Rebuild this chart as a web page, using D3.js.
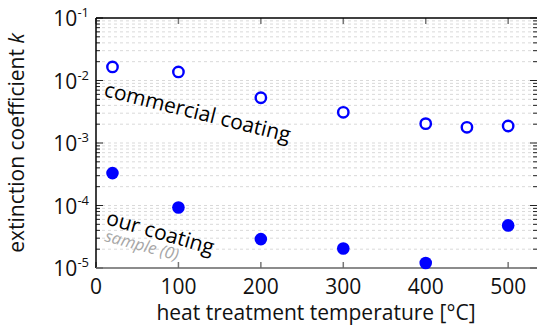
<!DOCTYPE html>
<html>
<head>
<meta charset="utf-8">
<script src="https://cdn.jsdelivr.net/npm/d3@7"></script>
<style>
  body { margin: 0; background: #fff; }
  text { font-family: "Open Sans", "Noto Sans", sans-serif; }
</style>
</head>
<body>
<svg id="chart" width="538" height="326"></svg>
<script>
// heat treatment temperatures [°C]
var commercialT = [20, 100, 200, 300, 400, 450, 500];
var commercialK = [0.0165, 0.0137, 0.0053, 0.0031, 0.00204, 0.00178, 0.00187];
var oursT = [20, 100, 200, 300, 400, 500];
var oursK = [3.3e-4, 9.3e-5, 2.9e-5, 2.05e-5, 1.2e-5, 4.8e-5];
var xTicks = [0, 100, 200, 300, 400, 500];
var yDecades = [-5, -4, -3, -2, -1];

var pLeft = 96, pTop = 18, pRight = 537, pBottom = 268;

var svg = d3.select("#chart");

var x = d3.scaleLinear().domain([0, 535]).range([pLeft, pRight]);
var y = d3.scaleLog().domain([1e-5, 1e-1]).range([pBottom, pTop]);

// minor/major log values
var logVals = [];
for (var e = -5; e <= -1; e++) {
    for (var m = 1; m < 10; m++) {
        var v = m * Math.pow(10, e);
        if (v <= 0.1 + 1e-12) logVals.push(v);
    }
}

// horizontal dashed grid
svg.append("g").selectAll("line")
    .data(logVals.filter(function(v) { return v > 1.0001e-5 && v < 0.0999; }))
    .enter().append("line")
    .attr("x1", pLeft).attr("x2", pRight)
    .attr("y1", function(d) { return y(d); })
    .attr("y2", function(d) { return y(d); })
    .attr("stroke", "#d9d9d9")
    .attr("stroke-width", 1)
    .attr("stroke-dasharray", "3,3");

// y ticks on left and right, pointing inwards
var yt = svg.append("g");
logVals.forEach(function(v) {
    var major = Math.abs(Math.log10(v) - Math.round(Math.log10(v))) < 1e-9;
    var len = major ? 7 : 4;
    yt.append("line").attr("x1", pLeft).attr("x2", pLeft + len)
        .attr("y1", y(v)).attr("y2", y(v)).attr("stroke", "#222");
    yt.append("line").attr("x1", pRight).attr("x2", pRight - len)
        .attr("y1", y(v)).attr("y2", y(v)).attr("stroke", "#222");
});

// x ticks bottom and top
var xt = svg.append("g");
xTicks.forEach(function(t) {
    xt.append("line").attr("x1", x(t)).attr("x2", x(t))
        .attr("y1", pBottom).attr("y2", pBottom - 6).attr("stroke", "#777").attr("stroke-width", 1.5);
    xt.append("line").attr("x1", x(t)).attr("x2", x(t))
        .attr("y1", pTop).attr("y2", pTop + 6).attr("stroke", "#777").attr("stroke-width", 1.5);
});

// axis box
svg.append("line").attr("x1", pLeft).attr("x2", pRight).attr("y1", pTop).attr("y2", pTop)
    .attr("stroke", "#000").attr("stroke-width", 1.5);
svg.append("line").attr("x1", pLeft).attr("x2", pLeft).attr("y1", pTop).attr("y2", pBottom)
    .attr("stroke", "#000").attr("stroke-width", 1.5);
svg.append("line").attr("x1", pLeft).attr("x2", pRight).attr("y1", pBottom).attr("y2", pBottom)
    .attr("stroke", "#666").attr("stroke-width", 1.5);

// x tick labels
svg.append("g").selectAll("text")
    .data(xTicks).enter().append("text")
    .attr("x", function(d) { return x(d); })
    .attr("y", 294)
    .attr("text-anchor", "middle")
    .attr("font-size", 21)
    .attr("fill", "#111")
    .text(function(d) { return d; });

// y tick labels 10^n
var yl = svg.append("g").selectAll("text")
    .data(yDecades).enter().append("text")
    .attr("x", 89)
    .attr("y", function(d) { return y(Math.pow(10, d)) + 8; })
    .attr("text-anchor", "end")
    .attr("font-size", 21)
    .attr("fill", "#111");
yl.append("tspan").text("10");
yl.append("tspan").attr("dy", -9).attr("font-size", 13).text(function(d) { return "-" + Math.abs(d); });

// axis titles
svg.append("text")
    .attr("x", 316).attr("y", 320)
    .attr("text-anchor", "middle").attr("font-size", 21).attr("fill", "#111")
    .text("heat treatment temperature [°C]");

var ylab = svg.append("text")
    .attr("transform", "translate(24," + ((pTop + pBottom) / 2) + ") rotate(-90)")
    .attr("text-anchor", "middle").attr("font-size", 21).attr("fill", "#111");
ylab.append("tspan").text("extinction coefficient ");
ylab.append("tspan").attr("font-style", "italic").text("k");

// annotations
svg.append("text")
    .attr("transform", "translate(103,96) rotate(14)")
    .attr("font-size", 21).attr("fill", "#000")
    .text("commercial coating");
svg.append("text")
    .attr("transform", "translate(105,224) rotate(16)")
    .attr("font-size", 21).attr("fill", "#000")
    .text("our coating");
svg.append("text")
    .attr("transform", "translate(104,241) rotate(15)")
    .attr("font-size", 16.5).attr("font-style", "italic").attr("fill", "#a6a6a6")
    .text("sample (0)");

// data points
svg.append("g").selectAll("circle")
    .data(commercialT).enter().append("circle")
    .attr("cx", function(d) { return x(d); })
    .attr("cy", function(d, i) { return y(commercialK[i]); })
    .attr("r", 5.2)
    .attr("fill", "#fff")
    .attr("stroke", "#0000ff")
    .attr("stroke-width", 2.4);

svg.append("g").selectAll("circle")
    .data(oursT).enter().append("circle")
    .attr("cx", function(d) { return x(d); })
    .attr("cy", function(d, i) { return y(oursK[i]); })
    .attr("r", 6.3)
    .attr("fill", "#0000ff");
</script>
</body>
</html>
